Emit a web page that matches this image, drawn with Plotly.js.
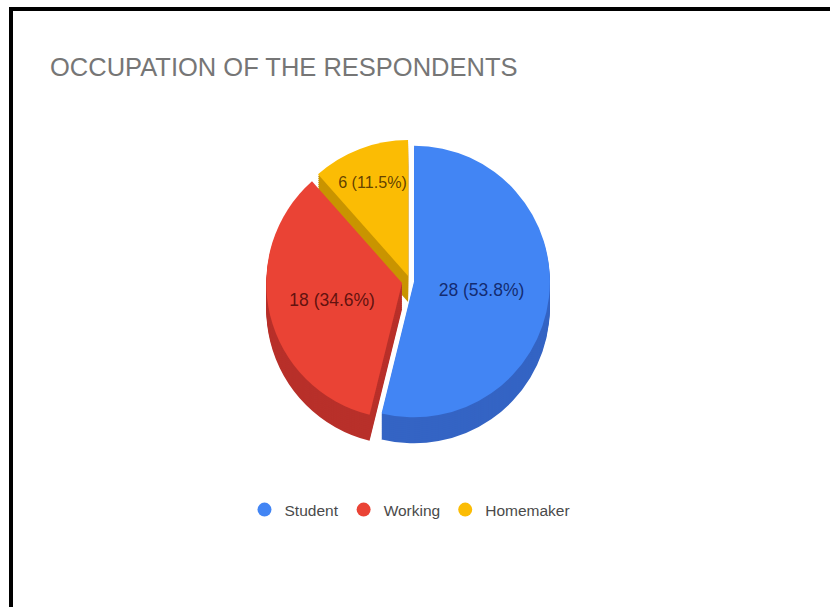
<!DOCTYPE html>
<html>
<head>
<meta charset="utf-8">
<script src="https://cdn.plot.ly/plotly-3.0.1.min.js"></script>
<style>
  html, body { margin: 0; padding: 0; background: #ffffff; }
  #chart { position: absolute; left: 0; top: 0; width: 830px; height: 607px; }
  #frame { position: absolute; left: 9px; top: 7px; width: 840px; height: 620px;
           border-top: 4px solid #000; border-left: 4px solid #000; pointer-events: none; }
</style>
</head>
<body>
<div id="chart"></div>
<div id="frame"></div>
<script>
// ---- data ----
const categories = ["Student", "Working", "Homemaker"];
const counts = [28, 18, 6];
const chartTitle = "OCCUPATION OF THE RESPONDENTS";

// ---- styling ----
const topColors = ["#4285F4", "#EA4335", "#FBBC04"];
const sideColors = ["#3464C4", "#B8302A", "#C99400"];
const textColors = ["rgba(15,35,100,0.92)", "rgba(80,12,10,0.9)", "rgba(80,50,0,0.9)"];
const pulls = [0.03, 0.06, 0.04];

const W = 830, H = 607;
const cx = 410, cy = 281, R = 144; // domain half-size in px
const depth = 26;

function domainAt(offset) {
  return {
    x: [(cx - R) / W, (cx + R) / W],
    y: [1 - (cy + offset + R) / H, 1 - (cy + offset - R) / H]
  };
}

const traces = [];
// extrusion layers (drawn first, underneath)
for (let off = depth; off >= 2; off -= 2) {
  traces.push({
    type: "pie",
    labels: categories,
    values: counts,
    sort: false,
    direction: "clockwise",
    rotation: 0,
    pull: pulls,
    marker: { colors: sideColors, line: { width: 0 } },
    textinfo: "none",
    hoverinfo: "skip",
    showlegend: false,
    domain: domainAt(off)
  });
}
// top face
traces.push({
  type: "pie",
  labels: categories,
  values: counts,
  sort: false,
  direction: "clockwise",
  rotation: 0,
  pull: pulls,
  marker: { colors: topColors, line: { width: 0 } },
  texttemplate: "%{value} (%{percent:.1%})",
  textposition: "inside",
  insidetextorientation: "horizontal",
  textfont: { family: "Liberation Sans, Arial, sans-serif", size: 17.5, color: textColors },
  showlegend: false,
  domain: domainAt(0)
});
// legend entries (circle markers)
categories.forEach((c, i) => {
  traces.push({
    type: "scatter",
    mode: "markers",
    x: [null], y: [null],
    name: c,
    marker: { color: topColors[i], size: 14, symbol: "circle" },
    hoverinfo: "skip",
    showlegend: true
  });
});

const layout = {
  width: W, height: H,
  margin: { l: 0, r: 0, t: 0, b: 0 },
  paper_bgcolor: "#ffffff",
  plot_bgcolor: "rgba(0,0,0,0)",
  font: { family: "Liberation Sans, Arial, sans-serif", color: "#444" },
  title: {
    text: chartTitle,
    font: { family: "Liberation Sans, Arial, sans-serif", size: 25.5, color: "#767676" },
    xref: "container", yref: "container",
    x: 50 / W, xanchor: "left",
    y: 1 - 67 / H, yanchor: "middle"
  },
  xaxis: { visible: false, domain: [0, 0.01] },
  yaxis: { visible: false, domain: [0, 0.01] },
  showlegend: true,
  legend: {
    orientation: "h",
    x: 410 / W, xanchor: "center",
    y: 1 - 510 / H, yanchor: "middle",
    font: { family: "Liberation Sans, Arial, sans-serif", size: 15.5, color: "#4a4a4a" },
    bgcolor: "rgba(0,0,0,0)",
    itemclick: false, itemdoubleclick: false
  }
};

Plotly.newPlot("chart", traces, layout, { displayModeBar: false, staticPlot: true });
</script>
</body>
</html>
